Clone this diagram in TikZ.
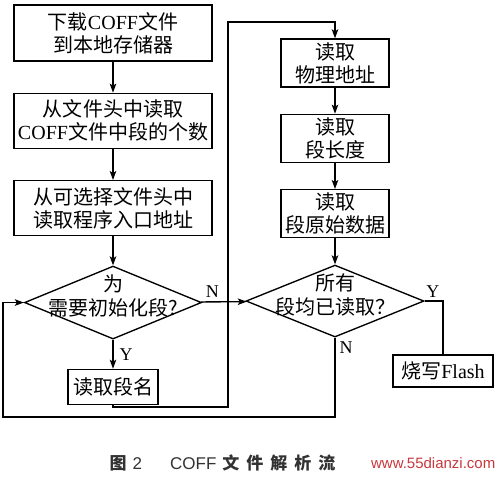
\documentclass[tikz,border=0pt]{standalone}
\usepackage{fontspec}
\setmainfont{Liberation Serif}
\setsansfont{Liberation Sans}
\newfontfamily\cjk{Noto Sans CJK SC}
\usepackage{tikz}
\usetikzlibrary{arrows.meta,positioning,shapes.geometric}
\definecolor{wmred}{RGB}{200,55,60}
\definecolor{capgray}{RGB}{50,50,50}
\newcommand{\lat}[1]{{\rmfamily #1}}

\begin{document}
\begin{tikzpicture}[x=1pt,y=-1pt,line width=1.35pt,
        >={Stealth[length=9pt,width=6.5pt,inset=2pt]},
        proc/.style={draw,align=center,inner sep=1pt,
            font=\cjk\fontsize{20}{23}\selectfont},
        left box/.style={proc,minimum width=198pt,minimum height=55pt},
        right box/.style={proc,minimum width=108pt,minimum height=48pt},
        decide/.style={draw,diamond,inner sep=0pt,
            minimum width=177pt,minimum height=73pt},
        dtext/.style={align=center,inner sep=0pt,
            font=\cjk\fontsize{20}{24}\selectfont},
        yn/.style={inner sep=1pt,font=\rmfamily\fontsize{18}{18}\selectfont}]

    \useasboundingbox (0,0) rectangle (500,476);

    % left column
    \node[left box,minimum height=56pt] (load) at (113,33) {下载\lat{COFF}文件\\到本地存储器};
    \node[left box] (count) [below=31pt of load] {从文件头中读取\\\lat{COFF}文件中段的个数};
    \node[left box] (entry) [below=31pt of count] {从可选择文件头中\\读取程序入口地址};
    \node[decide] [label={[dtext,yshift=7pt]center:{为\\需要初始化段?}}] (init) [below=29pt of entry] {};
    \node[proc,minimum width=90pt,minimum height=35pt] (segname) [below=29pt of init] {读取段名};

    % right column
    \node[right box] (phys) at (335,63) {读取\\物理地址};
    \node[right box] (len) [below=26pt of phys] {读取\\段长度};
    \node[right box] (raw) [below=26pt of len] {读取\\段原始数据};
    \node[decide,minimum width=178pt,minimum height=72pt] [label={[dtext,yshift=6pt]center:{所有\\段均已读取？}}] (check) [below=26pt of raw] {};
    \node[proc,minimum width=100pt,minimum height=32pt] (flash) at (443,371) {烧写\lat{Flash}};

    \coordinate (jointop) at (228,22);
    \coordinate (joinbot) at (228,407);
    \coordinate (loopbot) at (3,417);

    \path[->]
    (load) edge (count)
    (count) edge (entry)
    (entry) edge (init)
    (init) edge node[yn,right,xshift=5pt] {Y} (segname)
    (init) edge node[yn,above,near start,yshift=3pt] {N} (check)
    (phys) edge (len)
    (len) edge (raw)
    (raw) edge (check)
    ;

    \draw[->] (segname.south) |- (joinbot) -- (jointop) -| (phys.north);
    \draw[->] (check.south) node[yn,below right,xshift=3pt,yshift=-2pt] {N} |- (loopbot) |- (init.west);
    \draw (check.east) node[yn,above right,yshift=2pt] {Y} -| (flash.north);

    % caption
    \node[anchor=west,text=capgray,inner sep=0pt,font=\sffamily\fontsize{17}{17}\selectfont] (caption) at (109,463)
        {{\cjk\bfseries 图}\hspace{6pt}2\hspace{28pt}COFF\hspace{6pt}{\cjk\bfseries 文\hspace{7pt}件\hspace{7pt}解\hspace{7pt}析\hspace{7pt}流}};
    \node[anchor=east,text=wmred,inner sep=0pt,font=\sffamily\fontsize{15}{15}\selectfont] (mark) at (496,463) {www.55dianzi.com};
\end{tikzpicture}
\end{document}
